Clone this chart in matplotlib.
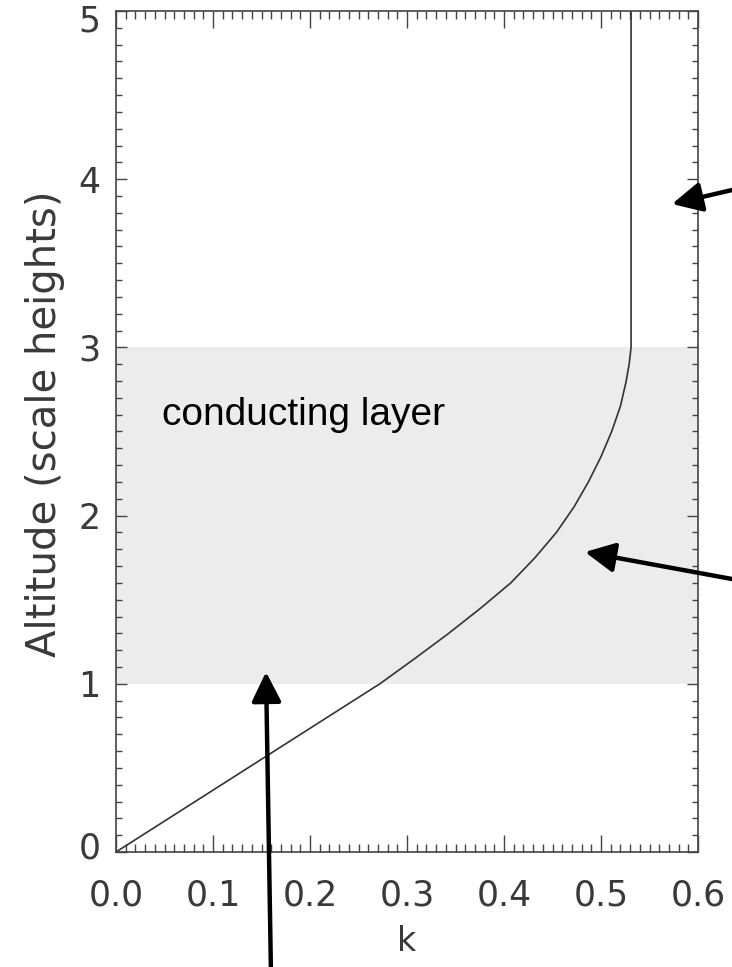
import numpy as np
import matplotlib.pyplot as plt
import matplotlib.transforms as mtransforms
from matplotlib.patches import FancyArrowPatch
from matplotlib.ticker import MultipleLocator

# profil k(z)
altitude = [0.0, 0.5, 1.0, 1.15, 1.3, 1.45, 1.6, 1.75, 1.9, 2.05, 2.2, 2.35,
            2.5, 2.65, 2.8, 2.9, 3.0, 5.0]
k_vals = [0.0, 0.136, 0.272, 0.308, 0.343, 0.376, 0.407, 0.432, 0.454, 0.472,
          0.487, 0.500, 0.511, 0.520, 0.526, 0.529, 0.531, 0.531]
layer = (1.0, 3.0)
xticks = [0.0, 0.1, 0.2, 0.3, 0.4, 0.5, 0.6]
yticks = [0, 1, 2, 3, 4, 5]

W, H = 732, 967
fig = plt.figure(figsize=(W / 100, H / 100), dpi=100, facecolor='w')
ax = fig.add_axes([116 / W, (H - 852) / H, 582 / W, 841 / H])

ax.axhspan(layer[0], layer[1], color='#ececec', lw=0, zorder=0)
ax.plot(k_vals, altitude, color='#333333', lw=1.2, zorder=2)

ax.set_xlim(0, 0.6)
ax.set_ylim(0, 5)
ax.set_xticks(xticks)
ax.set_yticks(yticks)
ax.set_xticklabels([f'{v:.1f}' for v in xticks])
ax.xaxis.set_minor_locator(MultipleLocator(0.01))
ax.yaxis.set_minor_locator(MultipleLocator(0.1))

tc = '#444444'
lc = '#3a3a3a'
ax.tick_params(axis='both', which='both', direction='in', top=True, right=True,
               colors=tc, width=1.0, labelcolor=lc, labelsize=25)
ax.tick_params(axis='x', which='major', length=12, pad=19)
ax.tick_params(axis='x', which='minor', length=6)
ax.tick_params(axis='y', which='major', length=8, pad=11)
ax.tick_params(axis='y', which='minor', length=4)
for s in ax.spines.values():
    s.set_color(tc)
    s.set_linewidth(1.2)

# petits decalages des etiquettes 0 et 5 comme sur l'original
ylabs = ax.get_yticklabels()
ylabs[0].set_transform(ylabs[0].get_transform() +
                       mtransforms.ScaledTranslation(0, 7 / 100, fig.dpi_scale_trans))
ylabs[-1].set_transform(ylabs[-1].get_transform() +
                        mtransforms.ScaledTranslation(0, -7 / 100, fig.dpi_scale_trans))

ax.set_xlabel('k', fontsize=24, color=lc, labelpad=9)
fig.text(45 / W, 1 - 424 / H, 'Altitude (scale heights)', rotation=90,
         ha='center', va='center', fontsize=29, color=lc)

ax.text(0.047, 2.6, 'conducting layer', fontsize=28, family='Liberation Sans',
        color='black', va='center', ha='left')

# fleches
def arrow(x0, y0, x1, y1):
    a = FancyArrowPatch((x0 / W, 1 - y0 / H), (x1 / W, 1 - y1 / H),
                        transform=fig.transFigure, arrowstyle='-|>,head_length=0.9,head_width=0.45',
                        mutation_scale=20, lw=3.2, color='black', shrinkA=0, shrinkB=0)
    fig.patches.append(a)

arrow(745, 187, 672, 204)
arrow(732, 579, 585, 552)
arrow(271, 975, 266, 672)

fig.savefig('out.png', dpi=100)
